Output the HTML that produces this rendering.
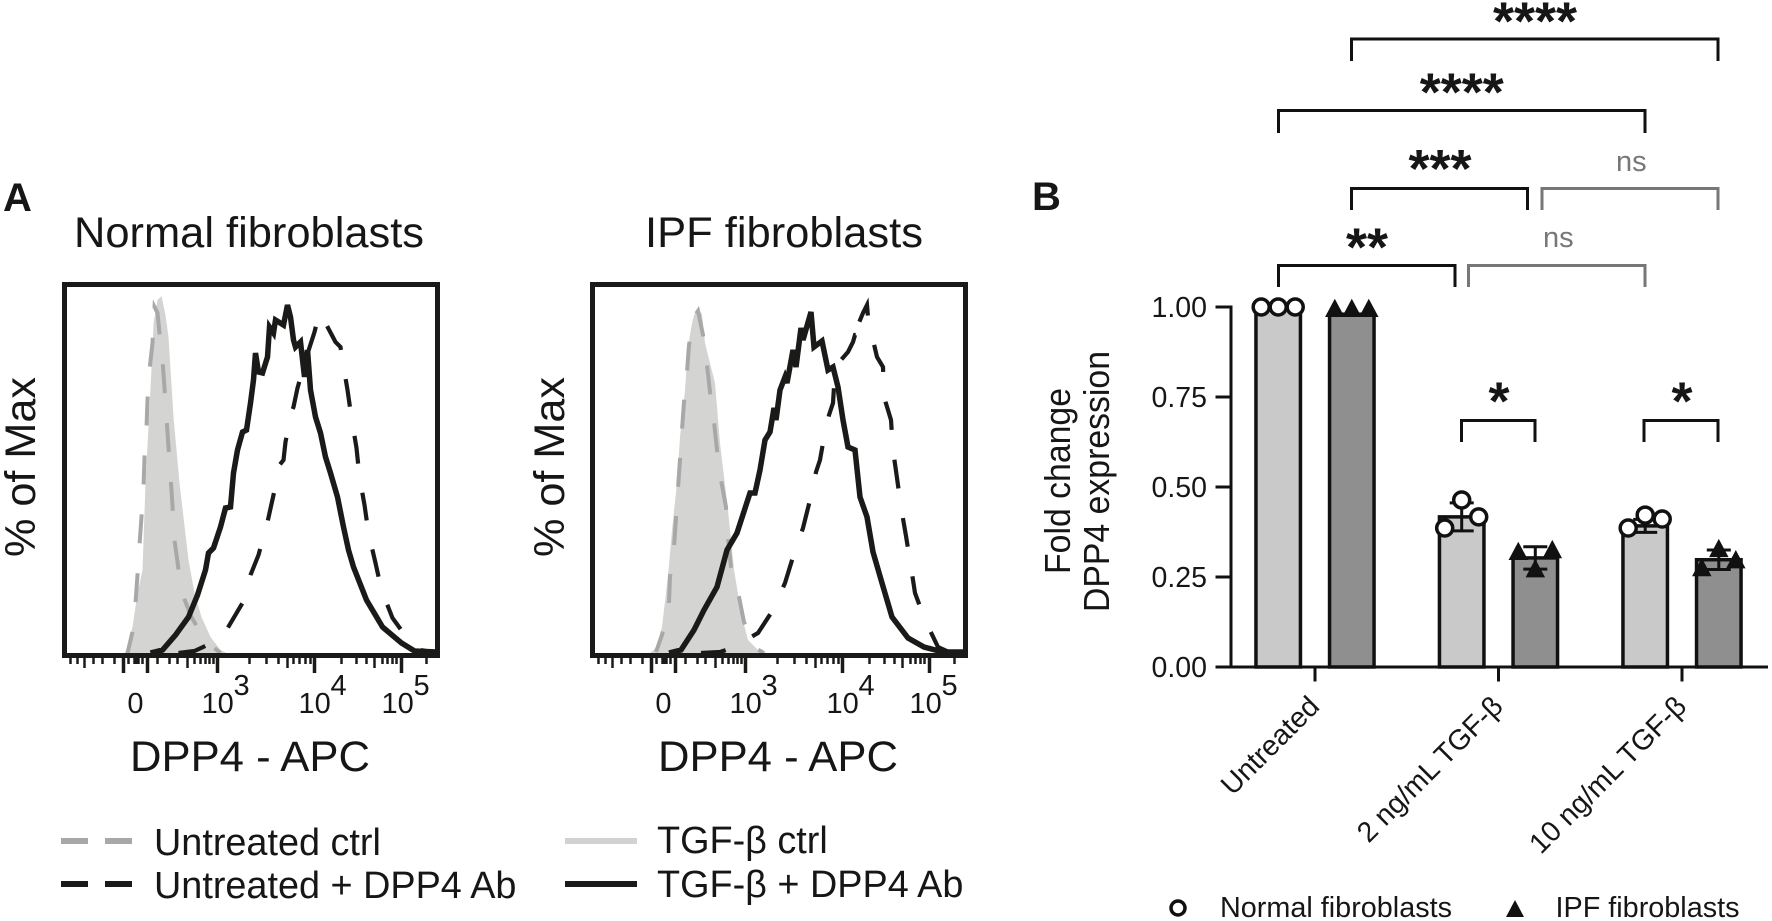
<!DOCTYPE html>
<html lang="en">
<head>
<meta charset="utf-8">
<title>DPP4 expression in fibroblasts</title>
<style>
html,body{margin:0;padding:0;background:#fff;width:1772px;height:921px;overflow:hidden}
svg{display:block}
text{font-family:"Liberation Sans",sans-serif;fill:#161616}
</style>
</head>
<body>
<svg id="figure" xmlns="http://www.w3.org/2000/svg" width="1772" height="921" viewBox="0 0 1772 921">
  <rect x="0" y="0" width="1772" height="921" fill="#fff"/>
  <text x="3" y="211" font-size="40" font-weight="700">A</text>
  <text x="1032" y="210" font-size="40" font-weight="700">B</text>

  <text x="74" y="247" font-size="43" textLength="350" lengthAdjust="spacingAndGlyphs">Normal fibroblasts</text>
  <text x="645" y="247" font-size="43" textLength="278" lengthAdjust="spacingAndGlyphs">IPF fibroblasts</text>

  <text transform="translate(35,557) rotate(-90)" font-size="43" textLength="180" lengthAdjust="spacingAndGlyphs">% of Max</text>
  <text transform="translate(564,557) rotate(-90)" font-size="43" textLength="180" lengthAdjust="spacingAndGlyphs">% of Max</text>

  <text x="130" y="771" font-size="43" textLength="240" lengthAdjust="spacingAndGlyphs">DPP4 - APC</text>
  <text x="658" y="771" font-size="43" textLength="240" lengthAdjust="spacingAndGlyphs">DPP4 - APC</text>

  <g>
    <path d="M61 841H88M105 841H132" stroke="#a8a8a8" stroke-width="6" fill="none"/>
    <text x="154" y="855" font-size="37.8">Untreated ctrl</text>
    <path d="M61 884H88M105 884H132" stroke="#1a1a18" stroke-width="6" fill="none"/>
    <text x="154" y="898" font-size="37.8">Untreated + DPP4 Ab</text>
    <path d="M565 841H637" stroke="#d2d2d1" stroke-width="6" fill="none"/>
    <text x="657" y="853" font-size="37.8">TGF-β ctrl</text>
    <path d="M565 884H637" stroke="#1a1a18" stroke-width="6" fill="none"/>
    <text x="657" y="897" font-size="37.8">TGF-β + DPP4 Ab</text>
  </g>

  <g fill="none" stroke-width="3">
    <path stroke="#111" d="M1351.5 61V39H1718V61"/>
    <path stroke="#111" d="M1278.5 133V110.5H1645V133"/>
    <path stroke="#111" d="M1351.5 210V188.5H1527.5V210"/>
    <path stroke="#777" d="M1542 210V188.5H1718V210"/>
    <path stroke="#111" d="M1278.5 287V265.5H1455V287"/>
    <path stroke="#777" d="M1468.5 287V265.5H1645V287"/>
    <path stroke="#111" d="M1461.5 442V420.5H1535V442"/>
    <path stroke="#111" d="M1644 442V420.5H1718V442"/>
  </g>
  <g font-weight="700" text-anchor="middle">
    <text x="1535" y="39.5" font-size="54" font-weight="700" text-anchor="middle">****</text>
    <text x="1461.8" y="110.5" font-size="54" font-weight="700" text-anchor="middle">****</text>
    <text x="1440" y="187" font-size="54" font-weight="700" text-anchor="middle">***</text>
    <text x="1367" y="265.5" font-size="54" font-weight="700" text-anchor="middle">**</text>
    <text x="1499" y="419.5" font-size="54" font-weight="700" text-anchor="middle">*</text>
    <text x="1682" y="419.5" font-size="54" font-weight="700" text-anchor="middle">*</text>
  </g>
  <text x="1616" y="171" font-size="29" style="fill:#777">ns</text>
  <text x="1543" y="247" font-size="29" style="fill:#777">ns</text>

  <text transform="translate(1070,574) rotate(-90)" font-size="36" textLength="186" lengthAdjust="spacingAndGlyphs">Fold change</text>
  <text transform="translate(1109,612) rotate(-90)" font-size="36" textLength="261" lengthAdjust="spacingAndGlyphs">DPP4 expression</text>

  <g>
    <circle cx="1178" cy="908" r="7" fill="#fff" stroke="#111" stroke-width="3.5"/>
    <path d="M1515 900L1524 917H1506Z" fill="#111"/>
    <text x="1220" y="917" font-size="29" textLength="232" lengthAdjust="spacingAndGlyphs">Normal fibroblasts</text>
    <text x="1555.5" y="917" font-size="29" textLength="184" lengthAdjust="spacingAndGlyphs">IPF fibroblasts</text>
  </g>
</svg>

<script>
// ---------- Flow histograms: [channel, count] ----------
const normalCtrlFill = [[120,0],[124,6],[136,52],[146,120],[156,166],[162,340],[176,606],[178,660],[186,706],[194,714],[202,676],[208,632],[218,472],[230,340],[248,186],[260,120],[274,72],[292,32],[312,6],[324,0]];
const normalCtrlDash = [[126,0],[136,42],[142,100],[146,156],[150,216],[154,272],[158,332],[160,390],[164,450],[166,506],[170,566],[176,620],[180,692],[186,680],[190,640],[196,586],[200,530],[204,470],[208,412],[212,352],[216,296],[218,240],[226,182],[234,122],[254,72],[280,26],[312,0]];
const normalAbDash = [[228,0],[260,4],[286,16],[324,46],[356,100],[372,156],[388,196],[406,262],[418,316],[430,376],[438,386],[442,422],[454,482],[458,492],[466,530],[482,586],[500,642],[506,666],[516,680],[522,660],[542,622],[552,612],[556,586],[566,526],[574,470],[584,410],[590,352],[600,296],[608,240],[622,180],[634,126],[656,70],[688,26],[712,6],[744,0]];
const normalAbSolid = [[172,0],[196,6],[222,36],[248,72],[266,116],[282,166],[288,200],[298,210],[312,252],[322,290],[332,292],[338,360],[346,406],[356,442],[364,446],[372,500],[378,546],[382,600],[388,562],[396,560],[406,592],[410,652],[418,640],[422,666],[438,656],[446,696],[452,672],[458,626],[462,612],[472,622],[480,552],[486,606],[492,526],[502,472],[512,440],[522,392],[532,360],[546,312],[558,252],[568,206],[578,172],[604,106],[636,52],[674,20],[700,4],[744,2]];

const ipfCtrlFill = [[115,0],[127,10],[139,52],[147,120],[153,176],[159,246],[169,340],[175,432],[185,526],[191,612],[199,660],[205,682],[211,688],[219,678],[225,620],[245,540],[255,420],[271,286],[283,166],[299,72],[311,26],[331,6],[349,0]];
const ipfCtrlDash = [[127,2],[139,36],[153,100],[155,152],[163,212],[167,270],[171,330],[175,386],[179,446],[183,502],[189,562],[193,616],[203,672],[211,684],[221,636],[229,576],[235,522],[243,462],[249,406],[257,346],[267,292],[271,232],[277,172],[293,112],[303,62],[325,10],[343,0]];
const ipfAbDash = [[217,0],[255,2],[279,10],[331,40],[361,86],[385,140],[401,192],[421,250],[435,306],[447,362],[455,386],[461,420],[473,476],[481,500],[483,532],[497,586],[511,602],[521,622],[525,636],[551,636],[531,656],[541,680],[549,696],[551,672],[561,626],[569,592],[581,572],[583,512],[591,486],[597,466],[601,406],[609,350],[617,292],[627,234],[637,172],[645,120],[665,66],[691,12],[713,2],[745,2]];
const ipfAbSolid = [[153,0],[177,6],[203,46],[223,86],[249,132],[269,206],[289,240],[315,320],[325,320],[335,366],[345,426],[355,442],[363,490],[367,466],[375,526],[385,552],[389,540],[401,606],[407,572],[417,650],[421,626],[437,682],[443,612],[459,624],[471,566],[481,572],[491,532],[501,466],[511,412],[525,406],[535,312],[549,272],[561,202],[579,140],[599,72],[631,30],[663,12],[701,2],[745,2]];

// ---------- Histogram axis ticks (channels) ----------
const majorTickChannels = [118,166,306,500,674];
const midTickChannels = [40,246,446,620];
const minorTickChannels = [12,26,58,76,100,128,140,144,148,156,186,210,226,260,272,282,290,298,370,404,428,458,470,482,492,554,584,604,636,646,656,664,724];
const histTickLabelChannels = [142,306,500,666];
const histTickLabelExponents = ['', '3', '4', '5'];

// ---------- Bar chart data ----------
const categories = ['Untreated', '2 ng/mL TGF-β', '10 ng/mL TGF-β'];
const yTickValues = [0, 0.25, 0.5, 0.75, 1];
const yTickLabels = ['0.00', '0.25', '0.50', '0.75', '1.00'];
const normalMeans = [1, 0.417, 0.392];
const ipfMeans = [0.98, 0.303, 0.298];
const normalErrors = [0, 0.039, 0.018];
const ipfErrors = [0, 0.031, 0.027];
const normalPoints = [[1, 1, 1], [0.386, 0.464, 0.417], [0.386, 0.422, 0.411]];
const ipfPoints = [[0.995, 0.995, 0.995], [0.32, 0.272, 0.325], [0.275, 0.328, 0.297]];

const SVG_NS = 'http://www.w3.org/2000/svg';
const svg = document.getElementById('figure');
const INK = '#1a1a18';

function make(tag, parent) {
  const el = document.createElementNS(SVG_NS, tag);
  parent.appendChild(el);
  return el;
}

// ---------- Histogram axes ----------
const HIST_CHANNEL_MAX = 746, HIST_COUNT_MAX = 714;
const HIST_WIDTH = 373, HIST_HEIGHT = 357, HIST_BASE = 653;
function histX(left, channel) { return left + channel / HIST_CHANNEL_MAX * HIST_WIDTH; }
function histY(count) { return HIST_BASE - count / HIST_COUNT_MAX * HIST_HEIGHT; }
function histPath(left, pts) {
  return pts.map(function (p, i) {
    return (i ? 'L' : 'M') + histX(left, p[0]).toFixed(1) + ' ' + histY(p[1]).toFixed(1);
  }).join('');
}

function drawHistogram(prefix, left, fillPts, ctrlPts, abDashPts, abSolidPts, ctrlDash, ctrlOffset, abDash, abOffset) {
  const g = make('g', svg);
  
  

  const fill = make('path', g);
  
  
  fill.setAttribute('d', histPath(left, fillPts) + 'Z');
  fill.setAttribute('fill', '#d4d4d3');

  const ctrl = make('path', g);
  
  
  ctrl.setAttribute('d', histPath(left, ctrlPts));
  ctrl.setAttribute('fill', 'none');
  ctrl.setAttribute('stroke', '#a8a8a8');
  ctrl.setAttribute('stroke-width', '4');
  ctrl.setAttribute('stroke-dasharray', ctrlDash);
  ctrl.setAttribute('stroke-dashoffset', ctrlOffset);

  const dash = make('path', g);
  
  
  dash.setAttribute('d', histPath(left, abDashPts));
  dash.setAttribute('fill', 'none');
  dash.setAttribute('stroke', INK);
  dash.setAttribute('stroke-width', '4.2');
  dash.setAttribute('stroke-dasharray', abDash);
  dash.setAttribute('stroke-dashoffset', abOffset);

  const solid = make('path', g);
  
  
  solid.setAttribute('d', histPath(left, abSolidPts));
  solid.setAttribute('fill', 'none');
  solid.setAttribute('stroke', INK);
  solid.setAttribute('stroke-width', '5.5');
  solid.setAttribute('stroke-linejoin', 'miter');

  const frame = make('rect', g);
  
  
  frame.setAttribute('x', left);
  frame.setAttribute('y', 284.5);
  frame.setAttribute('width', HIST_WIDTH);
  frame.setAttribute('height', 371);
  frame.setAttribute('fill', 'none');
  frame.setAttribute('stroke', INK);
  frame.setAttribute('stroke-width', '5');

  function tick(channel, bottom, width, name) {
    const t = make('line', g);
    
    
    const x = histX(left, channel);
    t.setAttribute('x1', x);
    t.setAttribute('x2', x);
    t.setAttribute('y1', 655);
    t.setAttribute('y2', bottom);
    t.setAttribute('stroke', INK);
    t.setAttribute('stroke-width', width);
  }
  minorTickChannels.forEach(function (c) { tick(c, 664, 2.5, prefix + '-minor-tick'); });
  midTickChannels.forEach(function (c) { tick(c, 668, 2.5, prefix + '-mid-tick'); });
  majorTickChannels.forEach(function (c) { tick(c, 673, 3.5, prefix + '-major-tick'); });

  histTickLabelChannels.forEach(function (c, i) {
    const exp = histTickLabelExponents[i];
    const x = histX(left, c);
    const t = make('text', g);
    
    
    t.setAttribute('y', 713);
    t.setAttribute('font-size', '29');
    if (exp === '') {
      t.setAttribute('x', x);
      t.setAttribute('text-anchor', 'middle');
      t.textContent = '0';
    } else {
      t.setAttribute('x', x - 16);
      t.textContent = '10';
      const s = make('text', g);
      
      
      s.setAttribute('x', x + 16);
      s.setAttribute('y', 695);
      s.setAttribute('font-size', '29');
      s.textContent = exp;
    }
  });
}

drawHistogram('normal', 64.5, normalCtrlFill, normalCtrlDash, normalAbDash, normalAbSolid, '29 30', 7.4, '28 29.5', 0);
drawHistogram('ipf', 592.5, ipfCtrlFill, ipfCtrlDash, ipfAbDash, ipfAbSolid, '29 29.3', 7.5, '29 30', 4);

// ---------- Bar chart axes ----------
const BAR_Y0 = 667, BAR_Y_SPAN = 360;
const GROUP_START = 1315, GROUP_STEP = 183.5, SERIES_OFFSET = 36.8, BAR_WIDTH = 44.5, POINT_SPREAD = 17;
function barY(v) { return BAR_Y0 - v * BAR_Y_SPAN; }
function groupX(i) { return GROUP_START + i * GROUP_STEP; }

const barChart = make('g', svg);



function drawBarSeries(seriesName, side, fillColor, means, errors, points, marker) {
  means.forEach(function (m, i) {
    const cx = groupX(i) + side * SERIES_OFFSET;
    const bar = make('rect', barChart);
    
    
    bar.setAttribute('x', cx - BAR_WIDTH / 2);
    bar.setAttribute('y', barY(m));
    bar.setAttribute('width', BAR_WIDTH);
    bar.setAttribute('height', BAR_Y0 - barY(m));
    bar.setAttribute('fill', fillColor);
    bar.setAttribute('stroke', '#111');
    bar.setAttribute('stroke-width', '3.5');

    if (errors[i] > 0) {
      const hi = barY(m + errors[i]), lo = barY(m - errors[i]);
      const err = make('path', barChart);
      
      
      err.setAttribute('d', 'M' + (cx - 12) + ' ' + hi + 'H' + (cx + 12) + 'M' + cx + ' ' + hi + 'V' + lo + 'M' + (cx - 12) + ' ' + lo + 'H' + (cx + 12));
      err.setAttribute('fill', 'none');
      err.setAttribute('stroke', '#111');
      err.setAttribute('stroke-width', '3');
    }

    points[i].forEach(function (v, j) {
      const px = cx + (j - 1) * POINT_SPREAD;
      const py = barY(v);
      if (marker === 'circle') {
        const c = make('circle', barChart);
        
        
        c.setAttribute('cx', px);
        c.setAttribute('cy', py);
        c.setAttribute('r', 8);
        c.setAttribute('fill', '#fff');
        c.setAttribute('stroke', '#111');
        c.setAttribute('stroke-width', '3.5');
      } else {
        const t = make('path', barChart);
        
        
        t.setAttribute('d', 'M' + px + ' ' + (py - 8.5) + 'L' + (px + 8.5) + ' ' + (py + 7.5) + 'H' + (px - 8.5) + 'Z');
        t.setAttribute('fill', '#111');
        t.setAttribute('stroke', '#111');
        t.setAttribute('stroke-width', '1.5');
      }
    });
  });
}
drawBarSeries('normal', -1, '#c9c9c9', normalMeans, normalErrors, normalPoints, 'circle');
drawBarSeries('ipf', 1, '#8f8f8f', ipfMeans, ipfErrors, ipfPoints, 'triangle');

const yAxisLine = make('line', barChart);


yAxisLine.setAttribute('x1', 1231);
yAxisLine.setAttribute('x2', 1231);
yAxisLine.setAttribute('y1', barY(1) - 1.5);
yAxisLine.setAttribute('y2', barY(0) + 1.5);
yAxisLine.setAttribute('stroke', '#111');
yAxisLine.setAttribute('stroke-width', '3');

const xAxisLine = make('line', barChart);


xAxisLine.setAttribute('x1', 1231);
xAxisLine.setAttribute('x2', 1768);
xAxisLine.setAttribute('y1', barY(0));
xAxisLine.setAttribute('y2', barY(0));
xAxisLine.setAttribute('stroke', '#111');
xAxisLine.setAttribute('stroke-width', '3');

yTickValues.forEach(function (v, i) {
  const t = make('line', barChart);
  
  
  t.setAttribute('x1', 1215.5);
  t.setAttribute('x2', 1231);
  t.setAttribute('y1', barY(v));
  t.setAttribute('y2', barY(v));
  t.setAttribute('stroke', '#111');
  t.setAttribute('stroke-width', '3');
  const l = make('text', barChart);
  
  
  l.setAttribute('x', 1207);
  l.setAttribute('y', barY(v) + 10);
  l.setAttribute('font-size', '28.5');
  l.setAttribute('text-anchor', 'end');
  l.textContent = yTickLabels[i];
});

categories.forEach(function (name, i) {
  const x = groupX(i);
  const t = make('line', barChart);
  
  
  t.setAttribute('x1', x);
  t.setAttribute('x2', x);
  t.setAttribute('y1', barY(0));
  t.setAttribute('y2', 681.5);
  t.setAttribute('stroke', '#111');
  t.setAttribute('stroke-width', '3');
  const l = make('text', barChart);
  
  
  l.setAttribute('transform', 'translate(' + (x + 6) + ',708) rotate(-45)');
  l.setAttribute('font-size', '28.5');
  l.setAttribute('text-anchor', 'end');
  l.textContent = name;
});
</script>
</body>
</html>
